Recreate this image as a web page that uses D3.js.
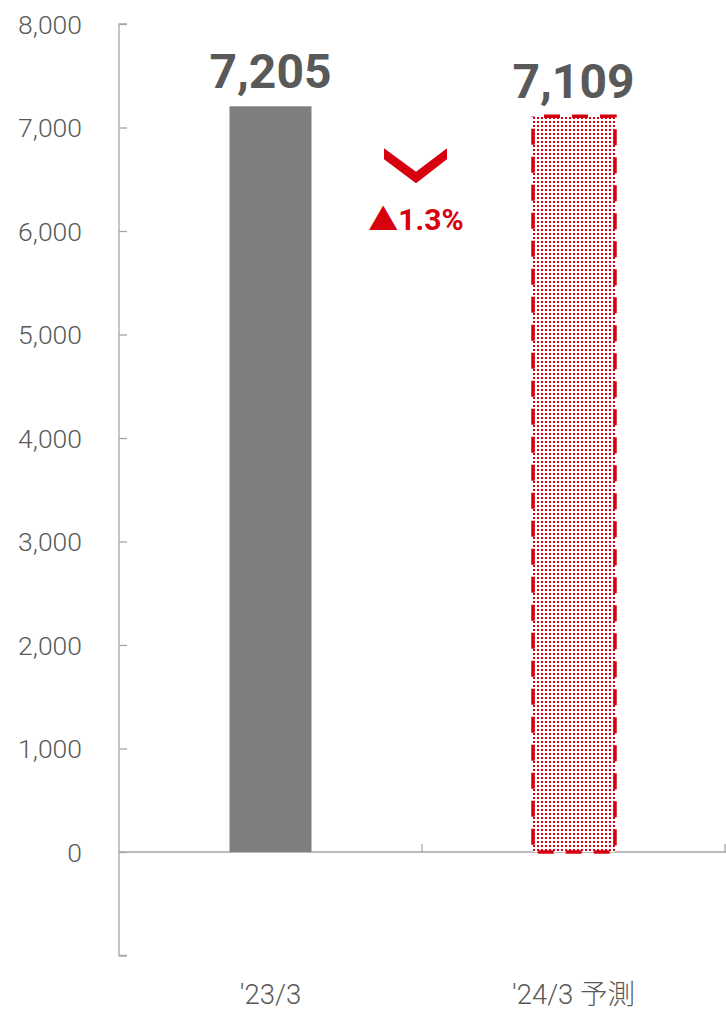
<!DOCTYPE html>
<html><head><meta charset="utf-8">
<script src="https://cdn.jsdelivr.net/npm/d3@7/dist/d3.min.js"></script>
<style>body{margin:0;background:#fff;}svg{display:block;}</style>
</head><body>
<script>
const categories = ["'23/3", "'24/3 予測"];
const values = [7205, 7109];
const valueLabels = ["7,205", "7,109"];
const yTicks = [-1000, 0, 1000, 2000, 3000, 4000, 5000, 6000, 7000, 8000];
const changeLabel = "▲1.3%";

const W = 726, H = 1012;
const svg = d3.select("body").append("svg").attr("width", W).attr("height", H);
const font = "Roboto, 'Noto Sans CJK JP', sans-serif";
const gray = "#595959", red = "#D7000F";

const x = d3.scaleBand().domain(categories).range([119, 725]).paddingInner(0).paddingOuter(0);
const y = d3.scaleLinear().domain([-1000, 8000]).range([955.5, 24]);

const defs = svg.append("defs");
const pat = defs.append("pattern").attr("id", "dots").attr("patternUnits", "userSpaceOnUse")
  .attr("width", 4).attr("height", 4);
pat.append("rect").attr("width", 4).attr("height", 4).attr("fill", "#fff");
pat.append("rect").attr("x", 1).attr("y", 1).attr("width", 2).attr("height", 2).attr("fill", red);

// y axis
const yAxis = d3.axisRight(y).tickValues(yTicks).tickSize(8).tickFormat("");
const gy = svg.append("g").attr("transform", "translate(119,0)").call(yAxis);
gy.select(".domain").attr("stroke", "#A6A6A6").attr("stroke-width", 1.3).attr("d", `M8,${y(-1000)}H0V${y(8000)}H8`);
gy.selectAll(".tick line").attr("stroke", "#A6A6A6").attr("stroke-width", 1.3);
// y labels (skip -1000)
svg.append("g").selectAll("text").data(yTicks.filter(d => d >= 0)).join("text")
  .attr("x", 82).attr("y", d => y(d)).attr("dy", "0.36em").attr("text-anchor", "end")
  .attr("font-family", font).attr("font-size", 26.5).attr("font-weight", 300).attr("fill", gray)
  .text(d => d3.format(",")(d));

// x axis at zero
const gx = svg.append("g").attr("transform", `translate(0,${y(0)})`);
gx.append("line").attr("x1", 119).attr("x2", 726).attr("stroke", "#A6A6A6").attr("stroke-width", 1.3);
gx.selectAll("line.t").data(categories).join("line").attr("class", "t")
  .attr("x1", d => x(d) + x.bandwidth()).attr("x2", d => x(d) + x.bandwidth())
  .attr("y1", -8).attr("y2", 0).attr("stroke", "#A6A6A6").attr("stroke-width", 1.3);

const bw = 82;
const cx = d => x(d) + x.bandwidth() / 2;

// bar 1
svg.append("rect").attr("x", cx(categories[0]) - bw / 2).attr("y", y(values[0]))
  .attr("width", bw).attr("height", y(0) - y(values[0])).attr("fill", "#7F7F7F");

// bar 2
svg.append("rect").attr("x", cx(categories[1]) - bw / 2 + 0.5).attr("y", y(values[1]))
  .attr("width", bw).attr("height", y(0) - y(values[1])).attr("fill", "url(#dots)")
  .attr("stroke", red).attr("stroke-width", 3.5).attr("stroke-dasharray", "16,12").attr("stroke-dashoffset", 17);

// value labels
svg.selectAll("text.val").data(categories).join("text").attr("class", "val")
  .attr("x", d => cx(d)).attr("y", (d, i) => y(values[i]) - 18).attr("text-anchor", "middle")
  .attr("font-family", font).attr("font-size", 48).attr("font-weight", 700).attr("fill", gray)
  .text((d, i) => valueLabels[i]);

// category labels
svg.selectAll("text.cat").data(categories).join("text").attr("class", "cat")
  .attr("x", d => cx(d)).attr("y", (d, i) => i === 0 ? 1004 : 1004).attr("text-anchor", "middle")
  .attr("font-family", font).attr("font-size", 27.5).attr("font-weight", 300).attr("fill", gray)
  .text(d => d);

// chevron
const mx = x(categories[1]);
svg.append("path").attr("fill", red)
  .attr("d", `M${mx - 38},148.3 L${mx - 6},171.7 L${mx + 25},148.3 L${mx + 25},159.3 L${mx - 6},183.3 L${mx - 38},159.3 Z`);
svg.append("text").attr("x", mx - 6).attr("y", 230).attr("text-anchor", "middle")
  .attr("font-family", font).attr("font-size", 30).attr("font-weight", 700).attr("fill", red)
  .text(changeLabel);
</script>
</body></html>
